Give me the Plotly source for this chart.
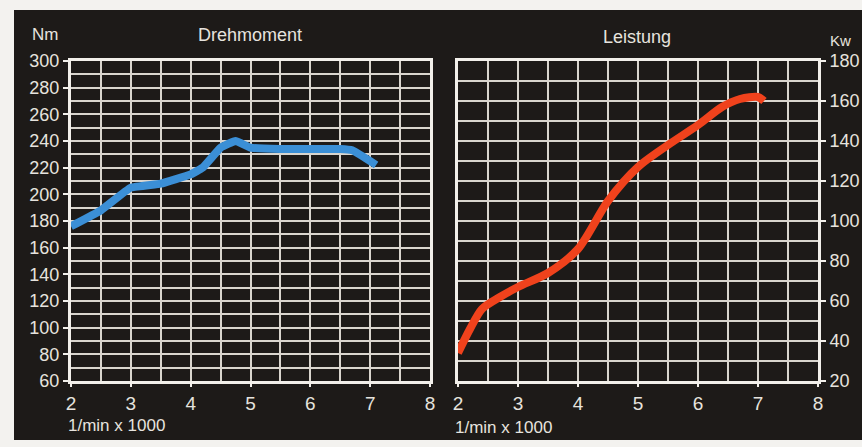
import plotly.graph_objects as go

# Data (x in 1/min x 1000)
torque_rpm = [2.0, 2.5, 3.0, 3.5, 4.0, 4.2, 4.5, 4.75, 5.0, 5.5, 6.0, 6.5, 6.7, 7.1]
torque_nm = [176, 188, 205, 208, 215, 220, 235, 240, 235, 234, 234, 234, 233, 222]

power_rpm = [2.0, 2.2, 2.4, 2.7, 3.0, 3.5, 4.0, 4.5, 5.0, 5.5, 6.0, 6.4, 6.7, 7.0, 7.1]
power_kw = [34, 46, 56, 62, 67, 74, 86, 110, 127, 138, 148, 157, 161, 162, 160]

x_ticks = [2, 3, 4, 5, 6, 7, 8]
torque_ticks = list(range(60, 301, 20))
power_ticks = list(range(20, 181, 20))

W, H = 862, 447
PANEL = "#1d1a18"
GRID = "#d9d5ce"
TXT = "#e6e3de"
FONT = "Liberation Sans"

def px(x):
    return x / W

def py(y):
    return (H - y) / H

fig = go.Figure()
fig.add_trace(go.Scatter(x=torque_rpm, y=torque_nm, mode="lines",
                         line=dict(color="#3b8fd6", width=8, shape="spline", smoothing=0.3),
                         xaxis="x", yaxis="y", showlegend=False))
fig.add_trace(go.Scatter(x=power_rpm, y=power_kw, mode="lines",
                         line=dict(color="#f0421c", width=8, shape="spline", smoothing=0.8),
                         xaxis="x2", yaxis="y2", showlegend=False))

common_x = dict(range=[2, 8], tickvals=x_ticks, showgrid=True, gridcolor=GRID, gridwidth=2,
                minor=dict(dtick=0.5, showgrid=True, gridcolor=GRID, gridwidth=2),
                showline=True, mirror=True, linecolor="#f2efea", linewidth=3,
                ticks="outside", ticklen=3, tickcolor="#f2efea", tickwidth=2,
                tickfont=dict(family=FONT, size=19, color=TXT), zeroline=False,
                fixedrange=True, automargin=False)
common_y = dict(showgrid=True, gridcolor=GRID, gridwidth=2,
                showline=True, mirror=True, linecolor="#f2efea", linewidth=3,
                ticks="outside", ticklen=5, tickcolor="#f2efea", tickwidth=2,
                tickfont=dict(family=FONT, size=18, color=TXT), zeroline=False,
                fixedrange=True, automargin=False)

fig.update_layout(
    width=W, height=H,
    autosize=False,
    margin=dict(l=0, r=0, t=0, b=0, pad=0),
    paper_bgcolor="#f3f2ef",
    plot_bgcolor=PANEL,
    xaxis=dict(domain=[px(71), px(430)], anchor="y", **common_x),
    yaxis=dict(domain=[py(381), py(61)], anchor="x", range=[60, 300], tickvals=torque_ticks,
               minor=dict(dtick=10, showgrid=True, gridcolor=GRID, gridwidth=2), **common_y),
    xaxis2=dict(domain=[px(458), px(818)], anchor="y2", **common_x),
    yaxis2=dict(domain=[py(381), py(61)], anchor="x2", side="right", range=[20, 180],
                tickvals=power_ticks,
                minor=dict(dtick=10, showgrid=True, gridcolor=GRID, gridwidth=2), **common_y),
    shapes=[dict(type="rect", xref="paper", yref="paper", x0=px(14), x1=1.0,
                 y0=py(440), y1=py(10), fillcolor=PANEL, line=dict(width=0), layer="below")],
)

def label(text, x, y, size=18, xanchor="center"):
    fig.add_annotation(text=text, x=px(x), y=py(y), xref="paper", yref="paper",
                       showarrow=False, xanchor=xanchor, yanchor="middle",
                       font=dict(family=FONT, size=size, color=TXT))

label("Nm", 45, 34, size=17)
label("Drehmoment", 250, 35)
label("Leistung", 637, 37)
label("Kw", 840, 40, size=15)
label("1/min x 1000", 66, 425, size=17, xanchor="left")
label("1/min x 1000", 453, 427, size=17, xanchor="left")

fig.write_html(
    "out.html",
    config={"displayModeBar": False},
    post_script="document.body.style.margin='0';document.body.style.padding='0';"
                "document.body.style.overflow='hidden';",
)
